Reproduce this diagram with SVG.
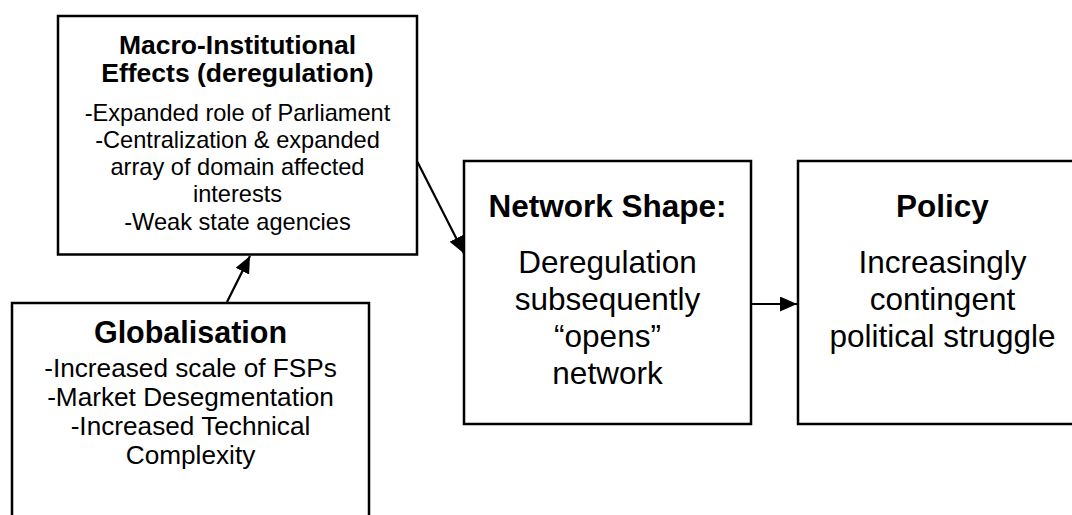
<svg xmlns="http://www.w3.org/2000/svg" width="1072" height="515" viewBox="0 0 1072 515">
  <style>
    .box { fill: #ffffff; stroke: #000000; stroke-width: 2.5; }
    .link { fill: none; stroke: #000000; stroke-width: 2.2; }
    text { font-family: "Liberation Sans", Arial, Helvetica, sans-serif; fill: #000000; text-anchor: middle; }
    .head { font-weight: bold; }
  </style>
  <defs>
    <marker id="arrow" markerUnits="userSpaceOnUse" markerWidth="19" markerHeight="15" refX="17" refY="7.5" orient="auto">
      <path d="M0,0 L17,7.5 L0,15 z" fill="#000000"/>
    </marker>
  </defs>

  <rect width="1072" height="515" fill="#ffffff"/>

  <!-- Macro-institutional effects -->
  <g id="macro">
    <rect class="box" x="58" y="16" width="359" height="238.5"/>
    <text class="head" x="237.5" y="53.5" font-size="26.5">Macro-Institutional</text>
    <text class="head" x="237.5" y="82" font-size="26.5">Effects (deregulation)</text>
    <text x="237.5" y="121" font-size="23.6">-Expanded role of Parliament</text>
    <text x="237.5" y="148" font-size="23.6">-Centralization &amp; expanded</text>
    <text x="237.5" y="175" font-size="23.6">array of domain affected</text>
    <text x="237.5" y="202" font-size="23.6">interests</text>
    <text x="237.5" y="230" font-size="23.6">-Weak state agencies</text>
  </g>

  <!-- Globalisation -->
  <g id="globalisation">
    <rect class="box" x="12" y="303" width="357" height="240"/>
    <text class="head" x="190.5" y="343" font-size="30.5">Globalisation</text>
    <text x="190.5" y="377" font-size="26.2">-Increased scale of FSPs</text>
    <text x="190.5" y="406" font-size="26.2">-Market Desegmentation</text>
    <text x="190.5" y="435" font-size="26.2">-Increased Technical</text>
    <text x="190.5" y="463.5" font-size="26.2">Complexity</text>
  </g>

  <!-- Network shape -->
  <g id="network">
    <rect class="box" x="464" y="161" width="287" height="263"/>
    <text class="head" x="607.5" y="217" font-size="31.5">Network Shape:</text>
    <text x="607.5" y="273" font-size="31.5">Deregulation</text>
    <text x="607.5" y="310" font-size="31.5">subsequently</text>
    <text x="607.5" y="347" font-size="31.5">“opens”</text>
    <text x="607.5" y="384" font-size="31.5">network</text>
  </g>

  <!-- Policy -->
  <g id="policy">
    <rect class="box" x="798" y="161" width="292" height="263"/>
    <text class="head" x="942.5" y="217" font-size="31.5">Policy</text>
    <text x="942.5" y="273" font-size="31.5">Increasingly</text>
    <text x="942.5" y="310" font-size="31.5">contingent</text>
    <text x="942.5" y="347" font-size="31.5">political struggle</text>
  </g>

  <!-- Connectors -->
  <g id="connectors">
    <line class="link" x1="227" y1="302" x2="250" y2="256" marker-end="url(#arrow)"/>
    <line class="link" x1="417.5" y1="162" x2="464" y2="253.5" marker-end="url(#arrow)"/>
    <line class="link" x1="751" y1="304" x2="797" y2="304" marker-end="url(#arrow)"/>
  </g>
</svg>
